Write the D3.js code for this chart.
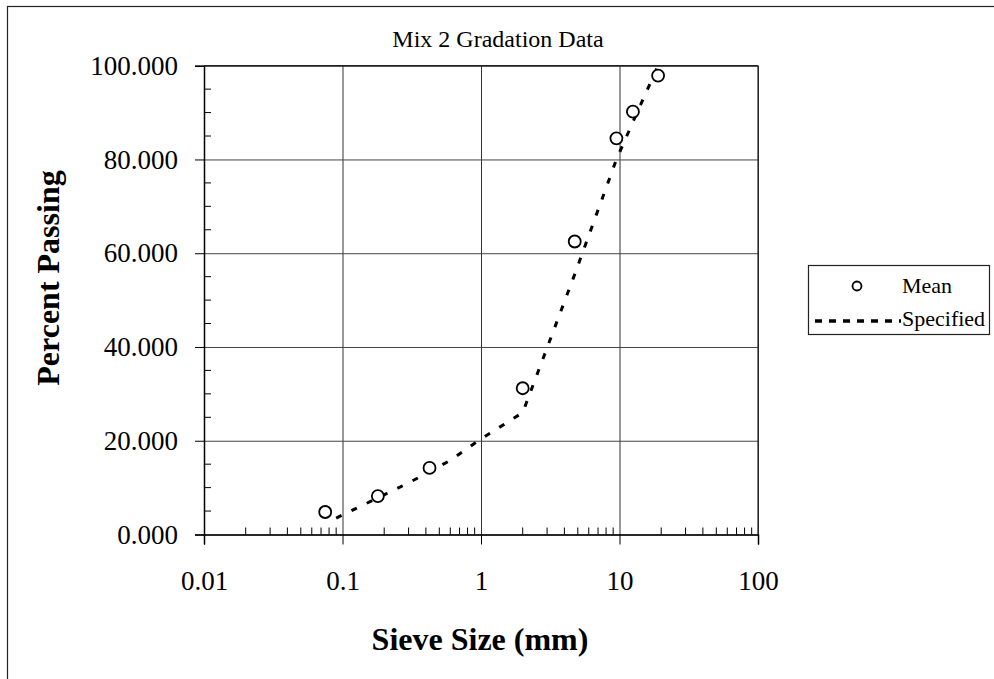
<!DOCTYPE html>
<html>
<head>
<meta charset="utf-8">
<script src="https://cdn.jsdelivr.net/npm/d3@7"></script>
<style>
body { margin:0; background:#fff; }
text { font-family:"Liberation Serif","Times New Roman",serif; fill:#000; }
</style>
</head>
<body>
<svg id="chart"></svg>
<script>
// measured (mean) gradation
var meanSize = [0.075, 0.18, 0.425, 2.0, 4.75, 9.5, 12.5, 19]
var meanPct = [4.8, 8.2, 14.2, 31.2, 62.5, 84.5, 90.2, 97.9]

// specified gradation line
var specSize = [0.09, 0.3, 0.6, 1.0, 2.0, 4.75, 9.5, 12.5, 19]
var specPct = [3.5, 11, 15.8, 20.4, 26, 55.5, 80, 88, 100]

var xTicks = [0.01, 0.1, 1, 10, 100]
var yTicks = [0, 20, 40, 60, 80, 100]

var initGraph = function(target)
{
    var screen = {width:994, height:679}
    var plot = {left:204, right:758, top:65.7, bottom:534.5}

    var svg = d3.select(target)
        .attr("width", screen.width)
        .attr("height", screen.height)

    // outer chart border (right and bottom edges fall off the page)
    svg.append("rect")
        .attr("x", 7.5)
        .attr("y", 6.5)
        .attr("width", 1000)
        .attr("height", 700)
        .attr("fill", "#fff")
        .attr("stroke", "#222")
        .attr("stroke-width", 1.2)

    var xScale = d3.scaleLog()
        .domain([0.01, 100])
        .range([plot.left, plot.right])

    var yScale = d3.scaleLinear()
        .domain([0, 100])
        .range([plot.bottom, plot.top])

    var w = plot.right - plot.left
    var h = plot.bottom - plot.top

    // gridlines
    svg.append("g")
        .attr("transform", "translate(0," + plot.bottom + ")")
        .call(d3.axisBottom(xScale).tickValues(xTicks).tickSize(-h).tickFormat(""))
        .call(function(g) { g.select(".domain").remove() })
        .selectAll("line")
        .attr("stroke", "#333")

    svg.append("g")
        .attr("transform", "translate(" + plot.left + ",0)")
        .call(d3.axisLeft(yScale).tickValues(yTicks).tickSize(-w).tickFormat(""))
        .call(function(g) { g.select(".domain").remove() })
        .selectAll("line")
        .attr("stroke", "#444")

    // y axis, major ticks outside
    var yAxis = svg.append("g")
        .attr("transform", "translate(" + plot.left + ",0)")
        .call(d3.axisLeft(yScale).tickValues(yTicks).tickSize(9).tickPadding(17)
            .tickFormat(d3.format(".3f")))
    yAxis.select(".domain").attr("stroke", "#000").attr("stroke-width", 1.5)
    yAxis.selectAll("line").attr("stroke", "#000")
    yAxis.selectAll("text")
        .attr("font-size", 27)
        .attr("font-family", "Liberation Serif")

    // y minor ticks, inside
    var yMinor = d3.range(0, 100, 5).filter(function(d) { return d % 20 != 0 })
    svg.append("g")
        .selectAll("line")
        .data(yMinor)
        .enter()
        .append("line")
        .attr("x1", plot.left)
        .attr("x2", plot.left + 7)
        .attr("y1", function(d) { return yScale(d) })
        .attr("y2", function(d) { return yScale(d) })
        .attr("stroke", "#000")

    // x axis, major ticks outside
    var xAxis = svg.append("g")
        .attr("transform", "translate(0," + plot.bottom + ")")
        .call(d3.axisBottom(xScale).tickValues(xTicks).tickSize(10).tickPadding(26)
            .tickFormat(function(d) { return String(d) }))
    xAxis.select(".domain").attr("stroke", "#000").attr("stroke-width", 1.5)
    xAxis.selectAll("line").attr("stroke", "#000")
    xAxis.selectAll("text")
        .attr("font-size", 27)
        .attr("font-family", "Liberation Serif")

    // x minor ticks, inside
    var xMinor = []
    xTicks.slice(0, -1).forEach(function(dec)
    {
        for (var k = 2; k <= 9; k++) { xMinor.push(dec * k) }
    })
    svg.append("g")
        .selectAll("line")
        .data(xMinor)
        .enter()
        .append("line")
        .attr("x1", function(d) { return xScale(d) })
        .attr("x2", function(d) { return xScale(d) })
        .attr("y1", plot.bottom)
        .attr("y2", plot.bottom - 7)
        .attr("stroke", "#000")

    // plot frame top / right
    svg.append("line")
        .attr("x1", plot.left).attr("x2", plot.right)
        .attr("y1", plot.top).attr("y2", plot.top)
        .attr("stroke", "#222").attr("stroke-width", 1.5)
    svg.append("line")
        .attr("x1", plot.right).attr("x2", plot.right)
        .attr("y1", plot.top).attr("y2", plot.bottom)
        .attr("stroke", "#222").attr("stroke-width", 1.2)

    // specified line
    var spec = specSize.map(function(s, i) { return {size:s, pct:specPct[i]} })
    var lineGenerator = d3.line()
        .x(function(entry) { return xScale(entry.size) })
        .y(function(entry) { return yScale(entry.pct) })

    svg.append("path")
        .datum(spec)
        .attr("d", lineGenerator)
        .attr("fill", "none")
        .attr("stroke", "#000")
        .attr("stroke-width", 3)
        .attr("stroke-dasharray", "6,11")

    // mean points
    var mean = meanSize.map(function(s, i) { return {size:s, pct:meanPct[i]} })
    svg.append("g")
        .selectAll("circle")
        .data(mean)
        .enter()
        .append("circle")
        .attr("cx", function(entry) { return xScale(entry.size) })
        .attr("cy", function(entry) { return yScale(entry.pct) })
        .attr("r", 6)
        .attr("fill", "#fff")
        .attr("stroke", "#000")
        .attr("stroke-width", 1.8)

    // titles
    svg.append("text")
        .attr("x", 498)
        .attr("y", 47)
        .attr("text-anchor", "middle")
        .attr("font-size", 24)
        .text("Mix 2 Gradation Data")

    svg.append("text")
        .attr("x", 480)
        .attr("y", 650)
        .attr("text-anchor", "middle")
        .attr("font-size", 32)
        .attr("font-weight", "bold")
        .text("Sieve Size (mm)")

    svg.append("text")
        .attr("transform", "translate(59,278) rotate(-90)")
        .attr("text-anchor", "middle")
        .attr("font-size", 32)
        .attr("font-weight", "bold")
        .text("Percent Passing")

    // legend
    var legend = svg.append("g")
    legend.append("rect")
        .attr("x", 808.5).attr("y", 265.5)
        .attr("width", 181).attr("height", 69)
        .attr("fill", "#fff")
        .attr("stroke", "#222")
        .attr("stroke-width", 1.2)
    legend.append("circle")
        .attr("cx", 857).attr("cy", 286).attr("r", 4.5)
        .attr("fill", "#fff").attr("stroke", "#000").attr("stroke-width", 1.8)
    legend.append("text")
        .attr("x", 902).attr("y", 293)
        .attr("font-size", 22)
        .text("Mean")
    legend.append("line")
        .attr("x1", 815).attr("x2", 901)
        .attr("y1", 321).attr("y2", 321)
        .attr("stroke", "#000").attr("stroke-width", 3.5)
        .attr("stroke-dasharray", "7,7")
    legend.append("text")
        .attr("x", 902).attr("y", 326)
        .attr("font-size", 22)
        .text("Specified")
}

initGraph("#chart")
</script>
</body>
</html>
